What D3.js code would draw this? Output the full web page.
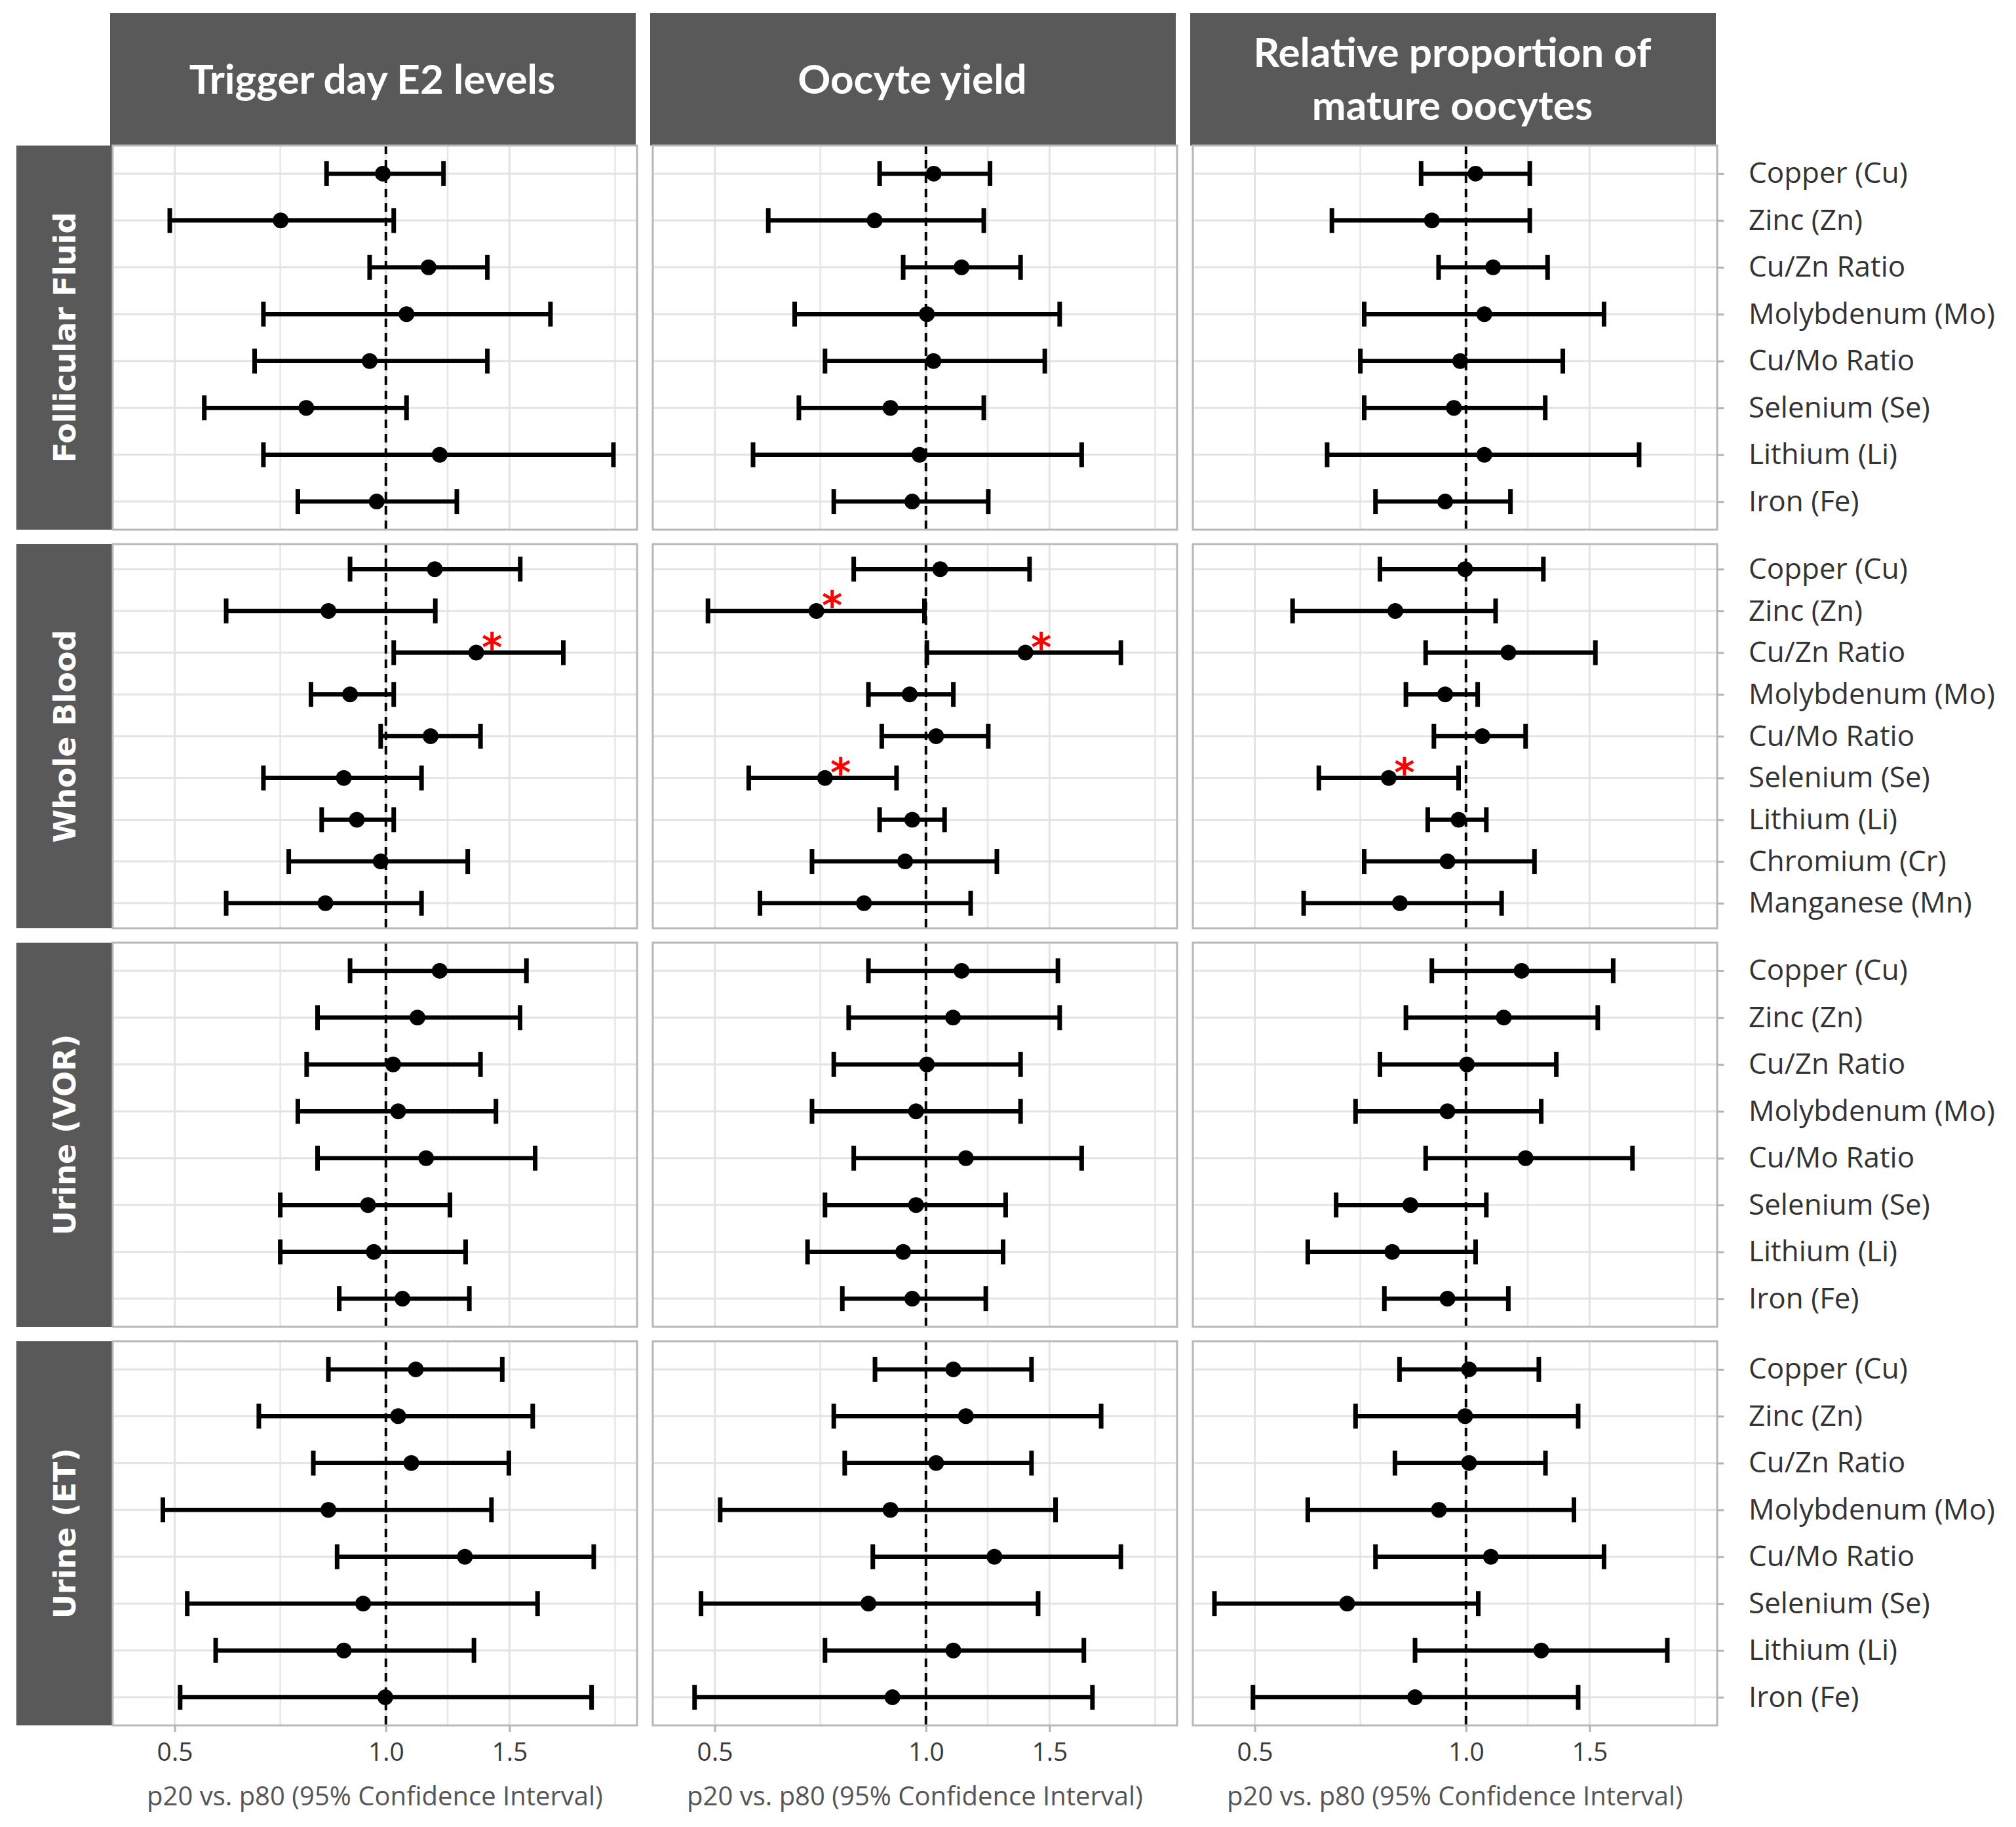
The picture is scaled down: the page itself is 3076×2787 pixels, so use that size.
<!DOCTYPE html>
<html>
<head>
  <meta charset="utf-8">
  <title>Trace metals forest plot</title>
  <script src="https://d3js.org/d3.v7.min.js"></script>
  <style>
    body { margin: 0; background: #fff; }
  </style>
</head>
<body>

  <svg id="chart"></svg>

  <script>

    // Outcomes (columns) and matrices (rows)
    var outcomes = ["Trigger day E2 levels", "Oocyte yield", "Relative proportion of|mature oocytes"];
    var matrices = ["Follicular Fluid", "Whole Blood", "Urine (VOR)", "Urine (ET)"];

    // Metals shown in each row
    var metalsFF = ["Copper (Cu)", "Zinc (Zn)", "Cu/Zn Ratio", "Molybdenum (Mo)", "Cu/Mo Ratio", "Selenium (Se)", "Lithium (Li)", "Iron (Fe)"];
    var metalsWB = ["Copper (Cu)", "Zinc (Zn)", "Cu/Zn Ratio", "Molybdenum (Mo)", "Cu/Mo Ratio", "Selenium (Se)", "Lithium (Li)", "Chromium (Cr)", "Manganese (Mn)"];
    var metalsUrine = ["Copper (Cu)", "Zinc (Zn)", "Cu/Zn Ratio", "Molybdenum (Mo)", "Cu/Mo Ratio", "Selenium (Se)", "Lithium (Li)", "Iron (Fe)"];

    // [lower CI, estimate, upper CI], p20 vs. p80
    var ffE2     = [[0.823,0.990,1.208],[0.492,0.708,1.026],[0.948,1.150,1.395],[0.669,1.070,1.716],[0.650,0.948,1.395],[0.551,0.770,1.070],[0.669,1.193,2.110],[0.749,0.970,1.262]];
    var ffYield  = [[0.859,1.026,1.234],[0.596,0.845,1.209],[0.928,1.124,1.364],[0.650,1.003,1.551],[0.718,1.025,1.477],[0.659,0.890,1.209],[0.567,0.979,1.667],[0.739,0.956,1.227]];
    var ffMature = [[0.863,1.032,1.233],[0.644,0.894,1.233],[0.914,1.093,1.307],[0.716,1.062,1.573],[0.707,0.981,1.374],[0.716,0.961,1.297],[0.634,1.062,1.765],[0.743,0.934,1.157]];

    var wbE2     = [[0.889,1.174,1.554],[0.592,0.828,1.176],[1.026,1.345,1.790],[0.782,0.889,1.026],[0.983,1.158,1.364],[0.669,0.871,1.124],[0.810,0.909,1.026],[0.727,0.983,1.308],[0.592,0.820,1.124]];
    var wbYield  = [[0.789,1.048,1.405],[0.489,0.698,0.995],[1.003,1.386,1.896],[0.828,0.948,1.094],[0.865,1.034,1.227],[0.559,0.718,0.908],[0.859,0.956,1.063],[0.688,0.934,1.262],[0.580,0.816,1.158]];
    var wbMature = [[0.754,0.997,1.289],[0.566,0.793,1.102],[0.876,1.149,1.529],[0.821,0.934,1.039],[0.900,1.055,1.216],[0.617,0.776,0.976],[0.882,0.976,1.069],[0.716,0.941,1.252],[0.587,0.805,1.124]];

    var vorE2     = [[0.889,1.193,1.586],[0.799,1.109,1.553],[0.771,1.024,1.364],[0.749,1.041,1.435],[0.799,1.141,1.632],[0.707,0.943,1.234],[0.707,0.961,1.299],[0.858,1.056,1.315]];
    var vorYield  = [[0.828,1.124,1.542],[0.776,1.093,1.551],[0.739,1.003,1.364],[0.688,0.968,1.364],[0.789,1.140,1.667],[0.718,0.968,1.299],[0.678,0.928,1.288],[0.760,0.956,1.217]];
    var vorMature = [[0.894,1.200,1.621],[0.821,1.132,1.541],[0.754,1.003,1.345],[0.696,0.941,1.280],[0.876,1.216,1.727],[0.653,0.833,1.069],[0.595,0.785,1.032],[0.765,0.941,1.149]];

    var etE2     = [[0.828,1.103,1.465],[0.659,1.041,1.619],[0.788,1.087,1.497],[0.481,0.828,1.414],[0.852,1.296,1.978],[0.521,0.928,1.645],[0.572,0.871,1.335],[0.509,0.998,1.964]];
    var etYield  = [[0.846,1.094,1.414],[0.739,1.140,1.777],[0.766,1.034,1.414],[0.509,0.890,1.530],[0.840,1.252,1.896],[0.478,0.828,1.445],[0.718,1.094,1.679],[0.468,0.896,1.727]];
    var etMature = [[0.804,1.010,1.270],[0.696,0.997,1.445],[0.792,1.010,1.298],[0.595,0.915,1.425],[0.743,1.085,1.573],[0.438,0.677,1.041],[0.846,1.280,1.936],[0.497,0.846,1.445]];

    // Significant results marked with a red asterisk: [matrix, outcome index, metal]
    var significant = [
      ["Whole Blood", 0, "Cu/Zn Ratio"],
      ["Whole Blood", 1, "Zinc (Zn)"],
      ["Whole Blood", 1, "Cu/Zn Ratio"],
      ["Whole Blood", 1, "Selenium (Se)"],
      ["Whole Blood", 2, "Selenium (Se)"]
    ];

    // Axis ticks and limits (log scale)
    var xTicks = [0.5, 1.0, 1.5];
    var xDomain = [0.408, 2.28];

    var rowMetals = [metalsFF, metalsWB, metalsUrine, metalsUrine];
    var panelData = [
      [ffE2, ffYield, ffMature],
      [wbE2, wbYield, wbMature],
      [vorE2, vorYield, vorMature],
      [etE2, etYield, etMature]
    ];

    // Layout
    var width = 3076, height = 2787;
    var panelLeft = 172, panelW = 800, colGap = 24;
    var panelTop = 222, panelH = 586, rowGap = 22;
    var headerTop = 20, stripLeft = 25;
    var dark = "#595959";

    var svg = d3.select("#chart")
        .attr("width", width)
        .attr("height", height);

    var x = d3.scaleLog().domain(xDomain).range([0, panelW]);

    // minor gridlines at the geometric midpoints, like ggplot
    var logTicks = xTicks.map(Math.log);
    var step = logTicks[1] - logTicks[0];
    var ext = [logTicks[0] - step].concat(logTicks, [logTicks[logTicks.length - 1] + step]);
    var minorTicks = d3.pairs(ext).map(function(p) { return Math.exp((p[0] + p[1]) / 2); })
        .filter(function(v) { return v > xDomain[0] && v < xDomain[1]; });

    function colX(c) { return panelLeft + c * (panelW + colGap); }
    function rowY(r) { return panelTop + r * (panelH + rowGap); }

    // Column headers
    outcomes.forEach(function(title, c) {
      var g = svg.append("g").attr("transform", "translate(" + (colX(c) - 4) + "," + headerTop + ")");
      g.append("rect")
          .attr("width", panelW + 2)
          .attr("height", panelTop - headerTop)
          .attr("fill", dark);
      var lines = title.split("|");
      var t = g.append("text")
          .attr("text-anchor", "middle")
          .attr("fill", "#fff")
          .style("font-family", "Lato, 'Open Sans', sans-serif")
          .style("font-weight", "bold")
          .style("font-size", "62px");
      lines.forEach(function(line, i) {
        t.append("tspan")
            .attr("x", panelW / 2)
            .attr("y", (panelTop - headerTop) / 2 + (i - (lines.length - 1) / 2) * 81)
            .attr("dy", "0.35em")
            .text(line);
      });
    });

    // Row strips
    matrices.forEach(function(name, r) {
      var g = svg.append("g").attr("transform", "translate(" + stripLeft + "," + rowY(r) + ")");
      g.append("rect")
          .attr("width", panelLeft - stripLeft)
          .attr("height", panelH)
          .attr("fill", dark);
      g.append("text")
          .attr("transform", "translate(" + ((panelLeft - stripLeft) / 2) + "," + (panelH / 2) + ") rotate(-90)")
          .attr("text-anchor", "middle")
          .attr("dy", "0.36em")
          .attr("fill", "#fff")
          .style("font-family", "'DejaVu Sans', Verdana, sans-serif")
          .style("font-weight", "bold")
          .style("font-size", "46px")
          .text(name);
    });

    // Panels
    matrices.forEach(function(matrix, r) {
      var metals = rowMetals[r];
      var y = d3.scalePoint().domain(metals).range([0, panelH]).padding(0.6);

      outcomes.forEach(function(outcome, c) {
        var rows = panelData[r][c];
        var g = svg.append("g").attr("transform", "translate(" + colX(c) + "," + rowY(r) + ")");

        // grid
        g.selectAll(".minor").data(minorTicks).enter().append("line")
            .attr("x1", function(d) { return x(d); }).attr("x2", function(d) { return x(d); })
            .attr("y1", 0).attr("y2", panelH)
            .attr("stroke", "#e6e6e6").attr("stroke-width", 2.5);
        g.selectAll(".major").data(xTicks).enter().append("line")
            .attr("x1", function(d) { return x(d); }).attr("x2", function(d) { return x(d); })
            .attr("y1", 0).attr("y2", panelH)
            .attr("stroke", "#e3e3e3").attr("stroke-width", 3);
        g.selectAll(".hgrid").data(metals).enter().append("line")
            .attr("x1", 0).attr("x2", panelW)
            .attr("y1", function(d) { return y(d); }).attr("y2", function(d) { return y(d); })
            .attr("stroke", "#e3e3e3").attr("stroke-width", 3);

        // reference line at 1
        g.append("line")
            .attr("x1", x(1)).attr("x2", x(1))
            .attr("y1", 0).attr("y2", panelH)
            .attr("stroke", "#000").attr("stroke-width", 4)
            .attr("stroke-dasharray", "13,9");

        // error bars
        var bars = g.selectAll(".bar").data(rows).enter().append("g");
        bars.append("line")
            .attr("x1", function(d) { return x(d[0]); })
            .attr("x2", function(d) { return x(d[2]); })
            .attr("y1", function(d, i) { return y(metals[i]); })
            .attr("y2", function(d, i) { return y(metals[i]); })
            .attr("stroke", "#000").attr("stroke-width", 6.5);
        [0, 2].forEach(function(k) {
          bars.append("line")
              .attr("x1", function(d) { return x(d[k]); })
              .attr("x2", function(d) { return x(d[k]); })
              .attr("y1", function(d, i) { return y(metals[i]) - 19; })
              .attr("y2", function(d, i) { return y(metals[i]) + 19; })
              .attr("stroke", "#000").attr("stroke-width", 7);
        });
        bars.append("circle")
            .attr("cx", function(d) { return x(d[1]); })
            .attr("cy", function(d, i) { return y(metals[i]); })
            .attr("r", 12)
            .attr("fill", "#000");

        // asterisks
        significant.filter(function(s) { return s[0] === matrix && s[1] === c; }).forEach(function(s) {
          var i = metals.indexOf(s[2]);
          g.append("text")
              .attr("x", x(rows[i][1]) + 24)
              .attr("y", y(s[2]) - 24)
              .attr("dy", "0.62em")
              .attr("text-anchor", "middle")
              .attr("fill", "#ff0000")
              .style("font-family", "'DejaVu Sans', sans-serif")
              .style("font-weight", "bold")
              .style("font-size", "60px")
              .text("*");
        });

        // panel border
        g.append("rect")
            .attr("width", panelW).attr("height", panelH)
            .attr("fill", "none")
            .attr("stroke", "#b8b8b8").attr("stroke-width", 3);

        // metal labels on the right of the last column
        if (c === outcomes.length - 1) {
          var ay = g.append("g")
              .attr("transform", "translate(" + panelW + ",0)")
              .call(d3.axisRight(y).tickSize(10).tickPadding(38));
          ay.select(".domain").remove();
          ay.selectAll(".tick line").attr("stroke", "#b3b3b3").attr("stroke-width", 3);
          ay.selectAll(".tick text")
              .attr("fill", "#333")
              .style("font-family", "'Open Sans', sans-serif")
              .style("font-size", "44px");
        }

        // x axis on the bottom row
        if (r === matrices.length - 1) {
          var ax = g.append("g")
              .attr("transform", "translate(0," + panelH + ")")
              .call(d3.axisBottom(x).tickValues(xTicks).tickFormat(d3.format(".1f")).tickSize(10).tickPadding(16));
          ax.select(".domain").remove();
          ax.selectAll(".tick line").attr("stroke", "#b3b3b3").attr("stroke-width", 3);
          ax.selectAll(".tick text")
              .attr("fill", "#3a3a3a")
              .style("font-family", "'Open Sans', sans-serif")
              .style("font-size", "39px");

          g.append("text")
              .attr("x", panelW / 2)
              .attr("y", 2740 - rowY(r))
              .attr("dy", "0.35em")
              .attr("text-anchor", "middle")
              .attr("fill", "#555")
              .style("font-family", "'Open Sans', sans-serif")
              .style("font-size", "40px")
              .text("p20 vs. p80 (95% Confidence Interval)");
        }
      });
    });

  </script>

</body>
</html>
